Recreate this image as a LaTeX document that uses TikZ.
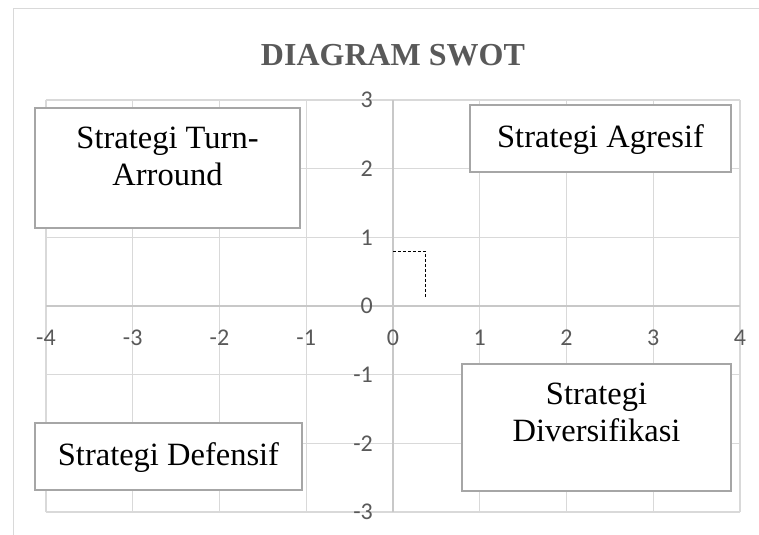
\documentclass[tikz,border=0pt]{standalone}
\usepackage{fontspec}
\setmainfont{Liberation Serif}
\newfontfamily\axisfont{Carlito}
\usetikzlibrary{positioning}
\definecolor{swgrid}{RGB}{217,217,217}
\definecolor{swaxis}{RGB}{200,200,200}
\definecolor{swedge}{RGB}{166,166,166}
\definecolor{swink}{RGB}{89,89,89}
\tikzset{
  quad/.style={
    draw=swedge, line width=2pt, fill=white, inner sep=0pt
  },
  quadtxt/.style={
    font=\fontsize{32.5}{37}\selectfont, align=center, inner sep=0pt,
    anchor=north, yshift=-20pt
  },
  gridln/.style={draw=swgrid, line width=1.4pt},
  axisln/.style={draw=swaxis, line width=1.4pt},
  ticklbl/.style={font=\axisfont\fontsize{24}{24}\selectfont, text=swink, inner sep=0pt},
  heading/.style={font=\fontsize{32}{32}\selectfont\bfseries, text=swink, inner sep=0pt},
  dashln/.style={draw=black, line width=0.8pt, dash pattern=on 3pt off 2pt}
}

\begin{document}
\begin{tikzpicture}[x=86.75pt, y=68.7pt]
  \useasboundingbox (-4.530,-3.333) rectangle (4.219,4.454);
  % chart frame
  \draw[draw=swgrid, line width=1pt] (-4.380,-3.40) |- (4.30,4.323);
  \node[heading, anchor=base] (title) at (0,3.494) {DIAGRAM SWOT};
  % grid
  \foreach \x in {-4,...,4}
    \draw[gridln] (\x,-3) -- (\x,3);
  \foreach \y in {-3,...,3}
    \draw[gridln] (-4,\y) -- (4,\y);
  \draw[axisln] (0,-3) -- (0,3);
  \draw[axisln] (-4,0) -- (4,0);
  % axis labels
  \foreach \x in {-4,...,4}
    \node[ticklbl] (xl\x) at (\x,-0.466) {\x};
  \foreach \y in {-3,...,3}
    \node[ticklbl, anchor=east] (yl\y) at (-0.23,\y) {\y};
  % dashed point
  \draw[dashln] (0,0.8) -| (0.37,0.13);
  % quadrant boxes
  \node[quad, minimum width=265pt, minimum height=120pt] (turn) at (-2.599,2.009) {};
  \node[quadtxt] (turntxt) at (turn.north) {Strategi Turn-\\Arround};
  \node[quad, minimum width=261pt, minimum height=67pt] (agr) at (2.392,2.438) {};
  \node[quadtxt] (agrtxt) at (agr.north) {Strategi Agresif};
  \node[quad, minimum width=269pt, minimum height=127pt] (div) at (2.346,-1.769) {};
  \node[quadtxt] (divtxt) at (div.north) {Strategi\\Diversifikasi};
  \node[quad, minimum width=267pt, minimum height=67pt] (def) at (-2.588,-2.191) {};
  \node[quadtxt] (deftxt) at (def.north) {Strategi Defensif};
\end{tikzpicture}
\end{document}
